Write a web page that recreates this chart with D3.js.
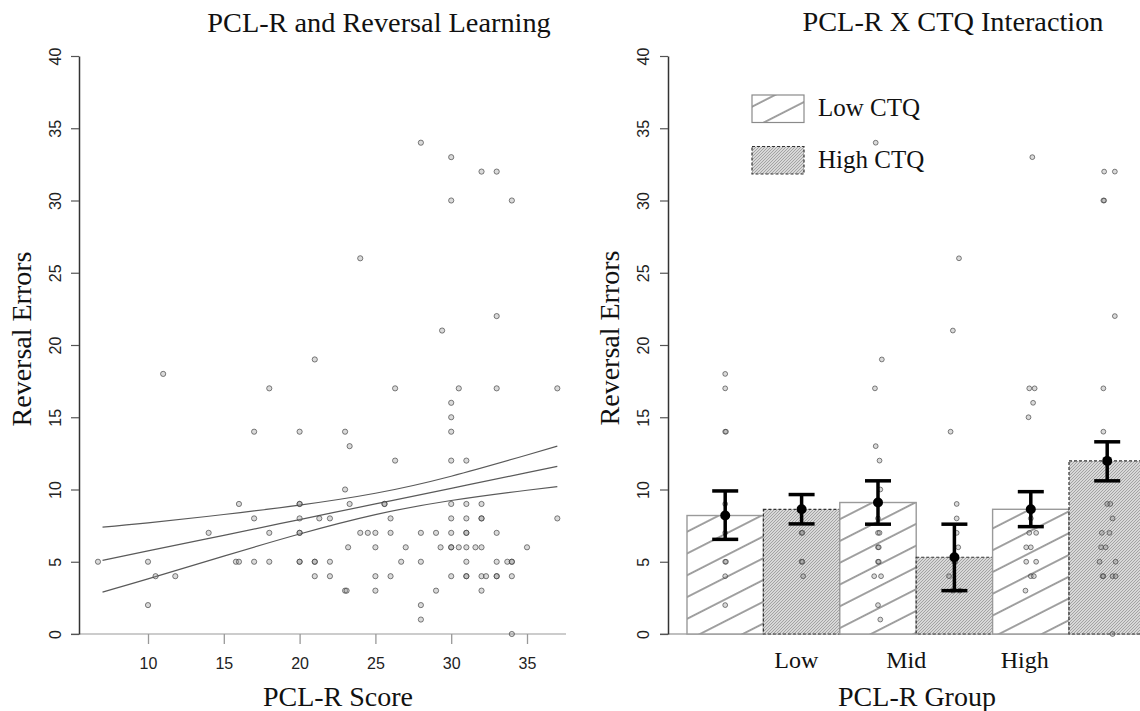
<!DOCTYPE html>
<html><head><meta charset="utf-8">
<script src="https://cdn.jsdelivr.net/npm/d3@7"></script>
<style>body{margin:0;background:#fff}</style>
</head><body>
<svg id="chart" width="1140" height="711"></svg>
<script>
// ---------- DATA ----------
const scatterScore  = [28,30,32,33,30,34,24,33,29.4,21,11,18,26.3,30.5,33,37,30,30,17,20,23,30,23.3,26.3,30,31,23,
  6.7,10,10,10.5,11.8,14,16,15.8,16,17,17,18,18,20,20,20,20,20,20,20,
  23.3,25.6,25.6,30,31,32,21.3,22,26,30,31,32,32,24,24.5,25,26,28,29,30,31,31,33,
  23.2,25,27,29.3,30,30,30.5,31,31.6,32,35,21,21,22,26.7,28,31,33,33.7,34,34,
  21,22,25,26,30,31,31,32,32.3,33,33,34,23,23.1,25,29,32,28,28,34,37];
const scatterErrors = [34,33,32,32,30,30,26,22,21,19,18,17,17,17,17,17,16,15,14,14,14,14,13,12,12,12,10,
  5,5,2,4,4,7,9,5,5,8,5,7,5,9,9,8,7,7,5,5,
  9,9,9,9,9,9,8,8,8,8,8,8,8,7,7,7,7,7,7,7,7,7,7,
  6,6,6,6,6,6,6,6,6,6,6,5,5,5,5,5,5,5,5,5,5,
  4,4,4,4,4,4,4,4,4,4,4,4,3,3,3,3,3,2,1,0,8];

// regression line and 95% band
const fitX     = [7, 10, 15, 20, 25, 30, 35, 37];
const fitMid   = [5.1, 5.75, 6.83, 7.92, 9.0, 10.08, 11.17, 11.6];
const fitUpper = [7.4, 7.69, 8.27, 8.92, 9.74, 10.92, 12.39, 13.0];
const fitLower = [2.9, 3.81, 5.39, 6.92, 8.26, 9.24, 9.95, 10.2];

const xTicksLeft = [10, 15, 20, 25, 30, 35];
const yTicks = [0, 5, 10, 15, 20, 25, 30, 35, 40];

const pclGroups = ["Low", "Mid", "High"];
const pclGroupPos = [1.43, 2.87, 4.42];
const ctqLevels = ["Low CTQ", "High CTQ"];
// bars ordered: Low/LowCTQ, Low/HighCTQ, Mid/LowCTQ, Mid/HighCTQ, High/LowCTQ, High/HighCTQ
const barMeans = [8.2, 8.63, 9.1, 5.31, 8.63, 11.98];
const barLower = [6.55, 7.62, 7.6, 3.0, 7.43, 10.6];
const barUpper = [9.9, 9.65, 10.6, 7.6, 9.85, 13.3];
// individual observations per bar: [value, horizontal jitter in bar units]
const barPoints = [
  [[18,0],[17,0],[14,0],[14,0.01],[9,0],[7,0],[5,0],[5,0.01],[4,0],[2,0]],
  [[7,0],[7,0.01],[5,0],[5,0.01],[4,0.02]],
  [[34,-0.03],[19,0.05],[17,-0.04],[13,-0.03],[12,0.02],[10,0.03],[8,0],[7,0],[7,0.02],[6,0],[6,0.01],[5,0],[5,0.01],[4,-0.05],[4,0.04],[2,0],[1,0.03]],
  [[26,0.06],[21,-0.02],[14,-0.05],[9,0.03],[8,0.03],[7,0.03],[6,0.05],[5,0],[5,0.01],[4,-0.07],[3,-0.02],[3,0.07]],
  [[33,0.02],[17,-0.02],[17,0.05],[16,0.03],[15,-0.03],[8,0],[7,-0.02],[7,0.07],[6,-0.06],[6,0],[5,-0.06],[5,0.07],[4,0],[4,0.04],[3,-0.07]],
  [[32,-0.04],[32,0.1],[30,-0.05],[30,-0.04],[22,0.1],[17,-0.05],[14,-0.05],[9,0],[9,0.04],[8,0.07],[7,-0.07],[7,0.03],[6,-0.08],[6,-0.02],[5,-0.1],[5,0.11],[4,-0.06],[4,-0.05],[4,0.07],[4,0.11],[0,0.07]]
];

// ---------- DRAW ----------
const svg = d3.select("#chart");
const serif = "'Liberation Serif','Times New Roman',serif";
const sans = "'Liberation Sans',Arial,sans-serif";

const defs = svg.append("defs");
const hatch = defs.append("pattern").attr("id","hatch").attr("patternUnits","userSpaceOnUse")
  .attr("width",10).attr("height",19.4).attr("patternTransform","rotate(-27)");
hatch.append("rect").attr("width",10).attr("height",19.4).attr("fill","#fff");
hatch.append("line").attr("x1",0).attr("x2",10).attr("y1",9.7).attr("y2",9.7)
  .attr("stroke","#555").attr("stroke-width",1.1);
const shade = defs.append("pattern").attr("id","shade").attr("patternUnits","userSpaceOnUse")
  .attr("width",3).attr("height",3);
shade.append("rect").attr("width",3).attr("height",3).attr("fill","#d8d8d8");
shade.append("path").attr("d","M0,3 L3,0 M-1,1 L1,-1 M2,4 L4,2").attr("stroke","#959595").attr("stroke-width",0.8);

const yScale = d3.scaleLinear().domain([0,40]).range([634,56]);

function styleYAxis(g, off){
  g.select(".domain").attr("stroke","#333").attr("stroke-width",1.5);
  g.selectAll(".tick line").attr("stroke","#555").attr("stroke-width",1.2);
  g.selectAll(".tick text").attr("x",0).attr("y",-off).attr("dy",0)
    .attr("transform","rotate(-90)").attr("text-anchor","middle")
    .style("font-family",sans).style("font-size","16px").attr("fill","#222");
}

// ===== Left panel =====
const xL = d3.scaleLinear().domain([10,35]).range([148,527]);

svg.append("line").attr("x1",71).attr("x2",566).attr("y1",634).attr("y2",634)
  .attr("stroke","#bbb").attr("stroke-width",1.5);

const gyL = svg.append("g").attr("transform","translate(79,0)")
  .call(d3.axisLeft(yScale).tickValues(yTicks).tickSize(8).tickSizeOuter(0));
styleYAxis(gyL, 18);

const gxL = svg.append("g").attr("transform","translate(0,634)")
  .call(d3.axisBottom(xL).tickValues(xTicksLeft).tickSize(10).tickSizeOuter(0));
gxL.select(".domain").remove();
gxL.selectAll(".tick line").attr("stroke","#999").attr("stroke-width",1.3);
gxL.selectAll(".tick text").attr("y",24).attr("dy","0.71em")
  .style("font-family",sans).style("font-size","16px").attr("fill","#222");

// regression band
const lineGen = (arr) => d3.line().x((d,i)=>xL(fitX[i])).y(d=>yScale(d)).curve(d3.curveNatural)(arr);
[fitUpper, fitMid, fitLower].forEach(arr=>{
  svg.append("path").attr("d",lineGen(arr)).attr("fill","none")
    .attr("stroke","#5a5a5a").attr("stroke-width",1.2);
});

// scatter points
svg.append("g").selectAll("circle").data(scatterScore).join("circle")
  .attr("cx",d=>xL(d)).attr("cy",(d,i)=>yScale(scatterErrors[i])).attr("r",2.6)
  .attr("fill","rgba(150,150,150,0.35)").attr("stroke","rgba(60,60,60,0.65)").attr("stroke-width",1);

svg.append("text").attr("x",379).attr("y",32).attr("text-anchor","middle")
  .style("font-family",serif).style("font-size","28.3px").attr("fill","#111")
  .text("PCL-R and Reversal Learning");
svg.append("text").attr("x",338).attr("y",706).attr("text-anchor","middle")
  .style("font-family",serif).style("font-size","28px").attr("fill","#111")
  .text("PCL-R Score");
svg.append("text").attr("transform","translate(31,339) rotate(-90)").attr("text-anchor","middle")
  .style("font-family",serif).style("font-size","28px").attr("fill","#111")
  .text("Reversal Errors");

// ===== Right panel =====
const xR = d3.scaleLinear().domain([0,6]).range([687,1145.4]);
const bw = xR(1)-xR(0);

svg.append("line").attr("x1",660).attr("x2",1140).attr("y1",634).attr("y2",634)
  .attr("stroke","#aaa").attr("stroke-width",1.5);

const gyR = svg.append("g").attr("transform","translate(668,0)")
  .call(d3.axisLeft(yScale).tickValues(yTicks).tickSize(8).tickSizeOuter(0));
styleYAxis(gyR, 19);

const bars = svg.append("g");
barMeans.forEach((m,i)=>{
  const high = i%2===1;
  bars.append("rect").attr("x",xR(i)).attr("width",bw)
    .attr("y",yScale(m)).attr("height",yScale(0)-yScale(m))
    .attr("fill", high ? "url(#shade)" : "url(#hatch)")
    .attr("stroke", high ? "#333" : "#9a9a9a")
    .attr("stroke-width", high ? 1.2 : 1.4)
    .attr("stroke-dasharray", high ? "3,2" : null);
});

// observations
barPoints.forEach((pts,i)=>{
  svg.append("g").selectAll("circle").data(pts).join("circle")
    .attr("cx",d=>xR(i+0.5+d[1])).attr("cy",d=>yScale(d[0])).attr("r",2.4)
    .attr("fill","rgba(150,150,150,0.35)").attr("stroke","rgba(60,60,60,0.65)").attr("stroke-width",1);
});

// error bars
barMeans.forEach((m,i)=>{
  const cx = xR(i+0.5);
  const g = svg.append("g").attr("stroke","#000").attr("stroke-width",3.5);
  g.append("line").attr("x1",cx).attr("x2",cx).attr("y1",yScale(barLower[i])).attr("y2",yScale(barUpper[i]));
  g.append("line").attr("x1",cx-13).attr("x2",cx+13).attr("y1",yScale(barUpper[i])).attr("y2",yScale(barUpper[i]));
  g.append("line").attr("x1",cx-13).attr("x2",cx+13).attr("y1",yScale(barLower[i])).attr("y2",yScale(barLower[i]));
  svg.append("circle").attr("cx",cx).attr("cy",yScale(m)).attr("r",5).attr("fill","#000");
});

// group labels
svg.append("g").selectAll("text").data(pclGroups).join("text")
  .attr("x",(d,i)=>xR(pclGroupPos[i])).attr("y",668).attr("text-anchor","middle")
  .style("font-family",serif).style("font-size","24px").attr("fill","#111").text(d=>d);

// legend
const leg = svg.append("g");
ctqLevels.forEach((t,i)=>{
  const y0 = 95 + i*51.5;
  leg.append("rect").attr("x",752).attr("y",y0).attr("width",52).attr("height",27.5)
    .attr("fill", i===1 ? "url(#shade)" : "url(#hatch)")
    .attr("stroke", i===1 ? "#333" : "#8a8a8a").attr("stroke-width",1.2)
    .attr("stroke-dasharray", i===1 ? "3,2" : null);
  leg.append("text").attr("x",818).attr("y",y0+21).style("font-family",serif)
    .style("font-size","25px").attr("fill","#111").text(t);
});

svg.append("text").attr("x",953).attr("y",31).attr("text-anchor","middle")
  .style("font-family",serif).style("font-size","28.3px").attr("fill","#111")
  .text("PCL-R X CTQ Interaction");
svg.append("text").attr("x",917).attr("y",706).attr("text-anchor","middle")
  .style("font-family",serif).style("font-size","28px").attr("fill","#111")
  .text("PCL-R Group");
svg.append("text").attr("transform","translate(619,338) rotate(-90)").attr("text-anchor","middle")
  .style("font-family",serif).style("font-size","28px").attr("fill","#111")
  .text("Reversal Errors");
</script>
</body></html>
